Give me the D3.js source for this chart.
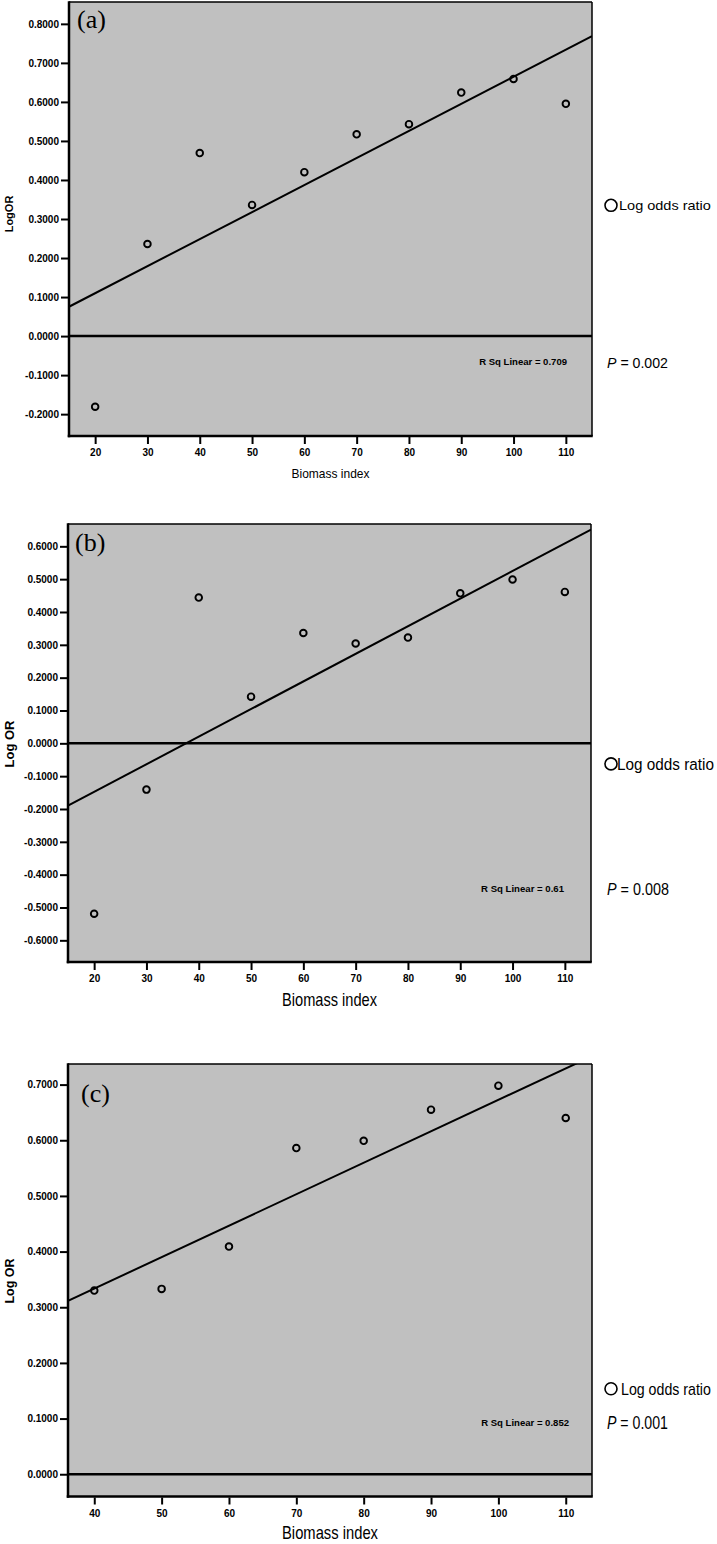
<!DOCTYPE html>
<html>
<head>
<meta charset="utf-8">
<script src="https://cdn.jsdelivr.net/npm/d3@7"></script>
<style>
body { margin: 0; background: #fff; }
svg { display: block; }
</style>
</head>
<body>
<div id="chart"></div>
<script>
// values
var biomassA = [20, 30, 40, 50, 60, 70, 80, 90, 100, 110];
var logOrA = [-0.181, 0.236, 0.469, 0.336, 0.420, 0.517, 0.543, 0.624, 0.659, 0.595];

var biomassB = [20, 30, 40, 50, 60, 70, 80, 90, 100, 110];
var logOrB = [-0.519, -0.141, 0.444, 0.142, 0.336, 0.304, 0.322, 0.457, 0.499, 0.461];

var biomassC = [40, 50, 60, 70, 80, 90, 100, 110];
var logOrC = [0.330, 0.333, 0.409, 0.586, 0.599, 0.655, 0.698, 0.640];

var xTicksAB = [20, 30, 40, 50, 60, 70, 80, 90, 100, 110];
var xTicksC = [40, 50, 60, 70, 80, 90, 100, 110];
var yTicksA = [-0.2, -0.1, 0, 0.1, 0.2, 0.3, 0.4, 0.5, 0.6, 0.7, 0.8];
var yTicksB = [-0.6, -0.5, -0.4, -0.3, -0.2, -0.1, 0, 0.1, 0.2, 0.3, 0.4, 0.5, 0.6];
var yTicksC = [0, 0.1, 0.2, 0.3, 0.4, 0.5, 0.6, 0.7];

var panelLabels = ["(a)", "(b)", "(c)"];
var rSquared = ["0.709", "0.61", "0.852"];
var pValues = ["0.002", "0.008", "0.001"];
var yTitles = ["LogOR", "Log OR", "Log OR"];
var xTitle = "Biomass index";
var legendLabel = "Log odds ratio";

var fmt = d3.formatLocale({decimal: ".", thousands: ",", grouping: [3], currency: ["", ""], minus: "-"}).format(".4f");

var svg = d3.select("#chart")
  .append("svg")
  .attr("width", 717)
  .attr("height", 1544);

function fitLine(xs, ys) {
  var mx = d3.mean(xs), my = d3.mean(ys);
  var sxy = d3.sum(xs, function(x, i) { return (x - mx) * (ys[i] - my); });
  var sxx = d3.sum(xs, function(x) { return (x - mx) * (x - mx); });
  var slope = sxy / sxx;
  return {slope: slope, intercept: my - slope * mx};
}

// squeeze a text horizontally so it spans len px (the original uses a narrow face)
function squeeze(text, x, y, len) {
  var w = text.node().getComputedTextLength();
  text.attr("transform", "translate(" + x + "," + y + ") scale(" + (len / w) + ",1)");
}

function drawPanel(p, i) {
  var g = svg.append("g");
  var x = d3.scaleLinear().domain(p.xDomain).range([p.left, p.right]);
  var y = d3.scaleLinear().domain(p.yDomain).range([p.bottom, p.top]);

  g.append("rect")
    .attr("x", p.left).attr("y", p.top)
    .attr("width", p.right - p.left).attr("height", p.bottom - p.top)
    .attr("fill", "#c0c0c0");

  var clipId = "clip" + i;
  g.append("clipPath").attr("id", clipId)
    .append("rect")
    .attr("x", p.left).attr("y", p.top)
    .attr("width", p.right - p.left).attr("height", p.bottom - p.top);

  // reference line at zero
  g.append("line")
    .attr("x1", p.left).attr("x2", p.right)
    .attr("y1", y(0)).attr("y2", y(0))
    .attr("stroke", "#000").attr("stroke-width", 2.5);

  // fit line
  var fit = fitLine(p.xs, p.ys);
  g.append("line")
    .attr("clip-path", "url(#" + clipId + ")")
    .attr("x1", x(p.xDomain[0])).attr("y1", y(fit.intercept + fit.slope * p.xDomain[0]))
    .attr("x2", x(p.xDomain[1])).attr("y2", y(fit.intercept + fit.slope * p.xDomain[1]))
    .attr("stroke", "#000").attr("stroke-width", 2);

  g.selectAll(".pt")
    .data(p.xs)
    .enter()
    .append("circle")
    .attr("class", "pt")
    .attr("cx", function(d) { return x(d); })
    .attr("cy", function(d, k) { return y(p.ys[k]); })
    .attr("r", 3.3)
    .attr("fill", "none")
    .attr("stroke", "#000")
    .attr("stroke-width", 1.9);

  // frame
  g.append("line").attr("x1", p.left).attr("x2", p.right).attr("y1", p.top).attr("y2", p.top)
    .attr("stroke", "#000").attr("stroke-width", 1.5);
  g.append("line").attr("x1", p.right).attr("x2", p.right).attr("y1", p.top).attr("y2", p.bottom)
    .attr("stroke", "#000").attr("stroke-width", 1.5);
  g.append("line").attr("x1", p.left).attr("x2", p.left).attr("y1", p.top - 0.75).attr("y2", p.bottom + 1.25)
    .attr("stroke", "#000").attr("stroke-width", 2.5);
  g.append("line").attr("x1", p.left - 1.25).attr("x2", p.right + 0.75).attr("y1", p.bottom).attr("y2", p.bottom)
    .attr("stroke", "#000").attr("stroke-width", 2.5);

  var yAxis = d3.axisLeft(y).tickValues(p.yTicks).tickFormat(fmt).tickSize(7).tickPadding(2).tickSizeOuter(0);
  var xAxis = d3.axisBottom(x).tickValues(p.xTicks).tickSize(7).tickPadding(5).tickSizeOuter(0);

  g.append("g")
    .attr("transform", "translate(" + (p.left - 1) + ",0)")
    .call(yAxis)
    .call(styleAxis);

  g.append("g")
    .attr("transform", "translate(0," + (p.bottom + 1) + ")")
    .call(xAxis)
    .call(styleAxis);

  // panel letter
  g.append("text")
    .attr("x", p.left + p.labelDx).attr("y", p.labelY)
    .attr("font-family", "'Liberation Serif', 'Times New Roman', serif")
    .attr("font-size", 26)
    .text(panelLabels[i]);

  // r squared note
  var rsq = g.append("text")
    .attr("text-anchor", "end")
    .attr("font-family", "'Liberation Sans', Arial, sans-serif")
    .attr("font-weight", "bold")
    .attr("font-size", 9)
    .text("R Sq Linear = " + rSquared[i]);
  squeeze(rsq, p.right - p.rsqDx, p.rsqY, p.rsqLen);

  // axis titles
  g.append("text")
    .attr("transform", "translate(" + p.yTitleX + "," + p.yTitleY + ") rotate(-90)")
    .attr("text-anchor", "middle")
    .attr("font-family", "'Liberation Sans', Arial, sans-serif")
    .attr("font-weight", "bold")
    .attr("font-size", p.yTitleSize)
    .text(yTitles[i]);

  var xt = g.append("text")
    .attr("text-anchor", "middle")
    .attr("font-family", "'Liberation Sans', Arial, sans-serif")
    .attr("font-size", p.xTitleSize)
    .text(xTitle);
  squeeze(xt, (p.left + p.right) / 2, p.xTitleY, p.xTitleLen);

  // legend
  g.append("circle")
    .attr("cx", p.legX).attr("cy", p.legY - p.legSize * 0.36)
    .attr("r", p.legR)
    .attr("fill", "#fff").attr("stroke", "#000").attr("stroke-width", 1.6);
  var lt = g.append("text")
    .attr("font-family", "'Liberation Sans', Arial, sans-serif")
    .attr("font-size", p.legSize)
    .text(legendLabel);
  squeeze(lt, p.legTextX, p.legY, p.legLen);

  var pt = g.append("text")
    .attr("font-family", "'Liberation Sans', Arial, sans-serif")
    .attr("font-size", p.pSize);
  pt.append("tspan").attr("font-style", "italic").text("P");
  pt.append("tspan").text(" = " + pValues[i]);
  squeeze(pt, 607, p.pY, p.pLen);
}

function styleAxis(a) {
  a.select(".domain").remove();
  a.selectAll(".tick line").attr("stroke", "#000").attr("stroke-width", 2);
  a.selectAll(".tick text")
    .attr("fill", "#000")
    .attr("font-family", "'Liberation Sans', Arial, sans-serif")
    .attr("font-weight", "bold")
    .attr("font-size", 10);
}

var panels = [
  {xs: biomassA, ys: logOrA, xTicks: xTicksAB, yTicks: yTicksA,
   left: 69, right: 592, top: 2, bottom: 436,
   xDomain: [15, 115], yDomain: [-0.256, 0.856],
   labelDx: 8, labelY: 28, rsqDx: 25, rsqY: 365, rsqLen: 88,
   yTitleX: 13, yTitleY: 214, yTitleSize: 11,
   xTitleY: 478, xTitleSize: 12, xTitleLen: 78,
   legX: 611, legTextX: 619, legY: 210, legR: 6, legSize: 13, legLen: 92,
   pY: 367.5, pSize: 15, pLen: 61},
  {xs: biomassB, ys: logOrB, xTicks: xTicksAB, yTicks: yTicksB,
   left: 68, right: 591, top: 524, bottom: 962,
   xDomain: [15, 115], yDomain: [-0.666, 0.668],
   labelDx: 7, labelY: 551, rsqDx: 27, rsqY: 892, rsqLen: 83,
   yTitleX: 14, yTitleY: 744, yTitleSize: 13,
   xTitleY: 1006, xTitleSize: 18, xTitleLen: 95,
   legX: 611, legTextX: 617, legY: 770, legR: 6, legSize: 17, legLen: 97,
   pY: 895, pSize: 17, pLen: 62},
  {xs: biomassC, ys: logOrC, xTicks: xTicksC, yTicks: yTicksC,
   left: 68, right: 592, top: 1064, bottom: 1496.5,
   xDomain: [36.1, 113.9], yDomain: [-0.04, 0.737],
   labelDx: 13, labelY: 1102, rsqDx: 23, rsqY: 1426, rsqLen: 88,
   yTitleX: 14, yTitleY: 1281, yTitleSize: 12.5,
   xTitleY: 1539, xTitleSize: 19, xTitleLen: 96,
   legX: 611, legTextX: 621, legY: 1394.5, legR: 6, legSize: 16, legLen: 90,
   pY: 1429, pSize: 17.5, pLen: 61}
];

panels.forEach(drawPanel);
</script>
</body>
</html>
